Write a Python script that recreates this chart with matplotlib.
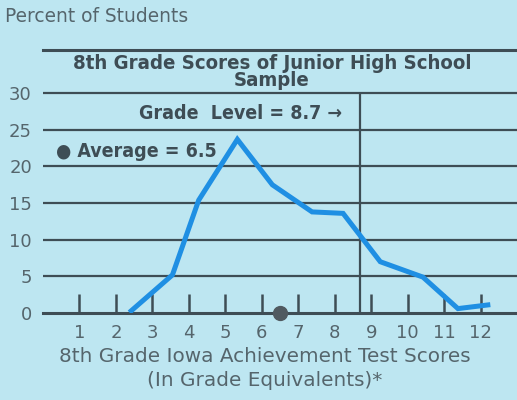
import numpy as np
import matplotlib.pyplot as plt

# values
grades = [2.42, 3.55, 4.27, 5.33, 6.29, 7.38, 8.23, 9.25, 10.42, 11.38, 12.2]
percent = [0.3, 5.2, 15.4, 23.7, 17.5, 13.8, 13.6, 7.0, 4.9, 0.6, 1.1]
tick_grades = list(range(1, 13))
y_ticks = [0, 5, 10, 15, 20, 25, 30]
grade_level = 8.7
average = 6.5

bg = '#bde6f1'
ink = '#3e4d55'
soft = '#55656c'
blue = '#1f8fe3'
bold = dict(fontweight='bold', family='DejaVu Sans', fontstretch='condensed', color=ink)

fig = plt.figure(figsize=(5.17, 4.0), dpi=100, facecolor=bg)
ax = fig.add_axes([43 / 517, 87 / 400, 474 / 517, 263 / 400])
ax.set_facecolor(bg)
ax.set_xlim(0, 13)
ax.set_ylim(0, 35.9)

for s in ['left', 'right']:
    ax.spines[s].set_visible(False)
ax.spines['top'].set_color(ink)
ax.spines['top'].set_linewidth(2.2)
ax.spines['bottom'].set_color(ink)
ax.spines['bottom'].set_linewidth(2.2)

for v in y_ticks[1:]:
    ax.axhline(v, color=ink, lw=1.6, zorder=1)
ax.vlines(grade_level, 0, 30, color=ink, lw=1.6, zorder=1)

ax.plot(grades, percent, color=blue, lw=3.6, solid_joinstyle='miter', zorder=3)
ax.plot([average], [0], 'o', color='#505a60', ms=10, clip_on=False, zorder=4)

ax.set_xticks(tick_grades)
ax.set_xticklabels([str(t) for t in tick_grades], fontsize=13, color=soft)
ax.tick_params(axis='x', direction='in', length=14, width=1.8, color=ink, pad=8)
ax.set_yticks(y_ticks)
ax.set_yticklabels([str(t) for t in y_ticks], fontsize=13, color=soft)
ax.tick_params(axis='y', length=0, pad=8)

ax.text(6.28, 32.85, '8th Grade Scores of Junior High School\nSample', ha='center', va='center',
        fontsize=14.6, linespacing=0.88, **bold)
ax.text(8.2, 27.3, 'Grade  Level = 8.7 →', ha='right', va='center', fontsize=14, **bold)
ax.text(0.35, 22.0, '● Average = 6.5', ha='left', va='center', fontsize=14, **bold)

fig.text(5 / 517, 1 - 17 / 400, 'Percent of Students', ha='left', va='center',
         fontsize=13.4, color=soft)
fig.text(265 / 517, 1 - 357 / 400, '8th Grade Iowa Achievement Test Scores', ha='center',
         va='center', fontsize=14.4, color=soft)
fig.text(265 / 517, 1 - 381 / 400, '(In Grade Equivalents)*', ha='center',
         va='center', fontsize=14.4, color=soft)

fig.savefig('out.png', dpi=100, facecolor=bg)
